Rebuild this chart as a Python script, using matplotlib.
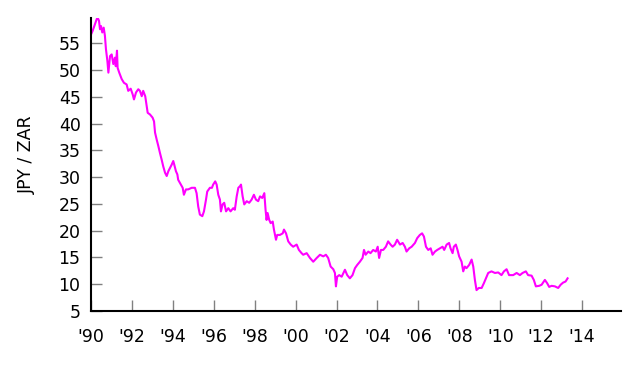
import matplotlib
matplotlib.use("Agg")
import matplotlib.pyplot as plt

years = [
    1990.01, 1990.08, 1990.16, 1990.28, 1990.33, 1990.39, 1990.44, 1990.49, 1990.55, 1990.62,
    1990.68, 1990.73, 1990.80, 1990.85, 1990.93, 1991.01, 1991.09, 1991.17, 1991.21, 1991.27,
    1991.30, 1991.38, 1991.50, 1991.61, 1991.74, 1991.82, 1991.94, 1992.04, 1992.10, 1992.20,
    1992.31, 1992.39, 1992.48, 1992.55, 1992.65, 1992.72, 1992.77, 1992.88, 1993.01, 1993.08,
    1993.13, 1993.21, 1993.29, 1993.37, 1993.45, 1993.53, 1993.62, 1993.70, 1993.78, 1993.86,
    1993.94, 1994.02, 1994.07, 1994.15, 1994.22, 1994.26, 1994.35, 1994.48, 1994.54, 1994.64,
    1994.75, 1994.92, 1995.08, 1995.16, 1995.24, 1995.32, 1995.44, 1995.52, 1995.62, 1995.68,
    1995.81, 1995.91, 1995.97, 1996.07, 1996.14, 1996.22, 1996.30, 1996.35, 1996.43, 1996.51,
    1996.60, 1996.71, 1996.82, 1996.95, 1997.03, 1997.12, 1997.20, 1997.28, 1997.33, 1997.41,
    1997.49, 1997.61, 1997.73, 1997.85, 1997.96, 1998.06, 1998.17, 1998.26, 1998.37, 1998.47,
    1998.53, 1998.58, 1998.63, 1998.71, 1998.78, 1998.88, 1998.94, 1999.04, 1999.10, 1999.23,
    1999.37, 1999.43, 1999.53, 1999.64, 1999.76, 1999.88, 2000.05, 2000.16, 2000.29, 2000.37,
    2000.54, 2000.70, 2000.86, 2001.03, 2001.19, 2001.35, 2001.48, 2001.59, 2001.71, 2001.84,
    2001.92, 2001.97, 2002.03, 2002.13, 2002.25, 2002.41, 2002.52, 2002.65, 2002.78, 2002.90,
    2003.01, 2003.14, 2003.27, 2003.34, 2003.42, 2003.55, 2003.66, 2003.79, 2003.92, 2004.01,
    2004.08, 2004.17, 2004.28, 2004.41, 2004.52, 2004.64, 2004.74, 2004.85, 2004.96, 2005.10,
    2005.23, 2005.34, 2005.42, 2005.55, 2005.67, 2005.83, 2005.94, 2006.07, 2006.18, 2006.27,
    2006.37, 2006.48, 2006.60, 2006.69, 2006.81, 2006.92, 2007.05, 2007.18, 2007.26, 2007.38,
    2007.50, 2007.57, 2007.67, 2007.73, 2007.83, 2007.91, 2007.99, 2008.11, 2008.19, 2008.27,
    2008.35, 2008.48, 2008.60, 2008.68, 2008.76, 2008.84, 2008.95, 2009.09, 2009.20, 2009.30,
    2009.41, 2009.57, 2009.74, 2009.90, 2010.06, 2010.18, 2010.31, 2010.43, 2010.63, 2010.80,
    2010.96, 2011.09, 2011.25, 2011.36, 2011.53, 2011.64, 2011.74, 2011.90, 2012.02, 2012.18,
    2012.29, 2012.39, 2012.51, 2012.67, 2012.83, 2012.95, 2013.07, 2013.19, 2013.29,
]
jpy_zar = [
    56.7, 57.3, 58.2, 59.5, 59.7, 59.2, 57.6, 58.2, 57.0, 57.9,
    56.4, 53.9, 51.7, 49.5, 52.6, 52.9, 51.1, 52.3, 50.7, 53.6,
    50.4, 49.5, 48.3, 47.6, 47.3, 46.1, 46.5, 45.4, 44.5, 45.8,
    46.4, 46.1, 45.1, 46.1, 45.1, 43.3, 42.0, 41.7, 41.1, 40.4,
    38.3, 37.0, 35.8, 34.5, 33.3, 32.0, 30.8, 30.2, 31.1, 31.7,
    32.3, 33.0, 32.3, 31.1, 30.5, 29.5, 28.9, 28.0, 26.7, 27.7,
    27.7, 28.0, 28.0, 27.0, 24.5, 23.0, 22.7, 23.6, 25.8, 27.3,
    28.0, 28.0, 28.6, 29.2, 28.6, 26.7, 25.8, 23.6, 24.9, 25.2,
    23.6, 24.2, 23.6, 24.2, 23.9, 26.4, 28.0, 28.3, 28.6, 26.4,
    24.9, 25.5, 25.2, 25.8, 26.7, 25.8, 25.5, 26.4, 26.1, 27.0,
    23.9, 22.0, 23.3, 22.0, 21.4, 21.7, 20.2, 18.3, 19.2, 19.2,
    19.5, 20.2, 19.5, 18.0, 17.4, 17.0, 17.4, 16.4, 15.8, 15.5,
    15.8, 14.9, 14.2, 14.9, 15.5, 15.2, 15.5, 14.9, 13.3, 12.8,
    12.1, 9.6, 11.4, 11.7, 11.4, 12.7, 11.7, 11.1, 11.7, 13.0,
    13.6, 14.2, 14.9, 16.4, 15.5, 16.1, 15.8, 16.4, 16.1, 17.0,
    14.9, 16.4, 16.4, 17.0, 18.0, 17.4, 17.0, 17.4, 18.3, 17.4,
    17.7, 17.0, 16.1, 16.7, 17.0, 17.7, 18.6, 19.2, 19.5, 18.9,
    17.0, 16.4, 16.7, 15.5, 16.1, 16.4, 16.7, 17.0, 16.4, 17.4,
    17.7, 16.7, 15.8, 17.0, 17.4, 16.4, 15.2, 14.2, 12.4, 13.3,
    13.0, 13.6, 14.6, 13.3, 10.8, 8.9, 9.3, 9.3, 10.2, 11.1,
    12.1, 12.4, 12.1, 12.2, 11.7, 12.4, 12.8, 11.7, 11.7, 12.1,
    11.7, 12.1, 12.4, 11.7, 11.6, 10.8, 9.6, 9.7, 9.9, 10.8,
    10.2, 9.5, 9.7, 9.6, 9.3, 9.9, 10.3, 10.5, 11.1,
]
x_ticks = [1990, 1992, 1994, 1996, 1998, 2000, 2002, 2004, 2006, 2008, 2010, 2012, 2014]
x_tick_labels = ["'90", "'92", "'94", "'96", "'98", "'00", "'02", "'04", "'06", "'08", "'10", "'12", "'14"]
y_ticks = [5, 10, 15, 20, 25, 30, 35, 40, 45, 50, 55]

plt.rcParams['font.family'] = ['DejaVu Sans']
fig = plt.figure(figsize=(6.4, 3.66), dpi=100)
ax = fig.add_axes([91/640, 1-311/366, 530/640, 293/366])
ax.plot(years, jpy_zar, color='#ff00ff', linewidth=1.5)
ax.set_xlim(1990, 2015.9)
ax.set_ylim(5, 59.7)
ax.set_xticks(x_ticks)
ax.set_xticklabels(x_tick_labels)
ax.set_yticks(y_ticks)
for s in ['top', 'right']:
    ax.spines[s].set_visible(False)
for s in ['left', 'bottom']:
    ax.spines[s].set_linewidth(1.5)
    ax.spines[s].set_color('black')
ax.tick_params(axis='x', direction='in', length=8, width=1, color='#808080', pad=12, labelsize=12.5)
ax.tick_params(axis='y', direction='in', length=8, width=1, color='#808080', pad=7.5, labelsize=12.5)
ax.set_ylabel('JPY / ZAR', fontsize=12.5, va='center')
ax.yaxis.set_label_coords((27-91)/530, (311-155)/293)
fig.savefig('out.png', dpi=100)
